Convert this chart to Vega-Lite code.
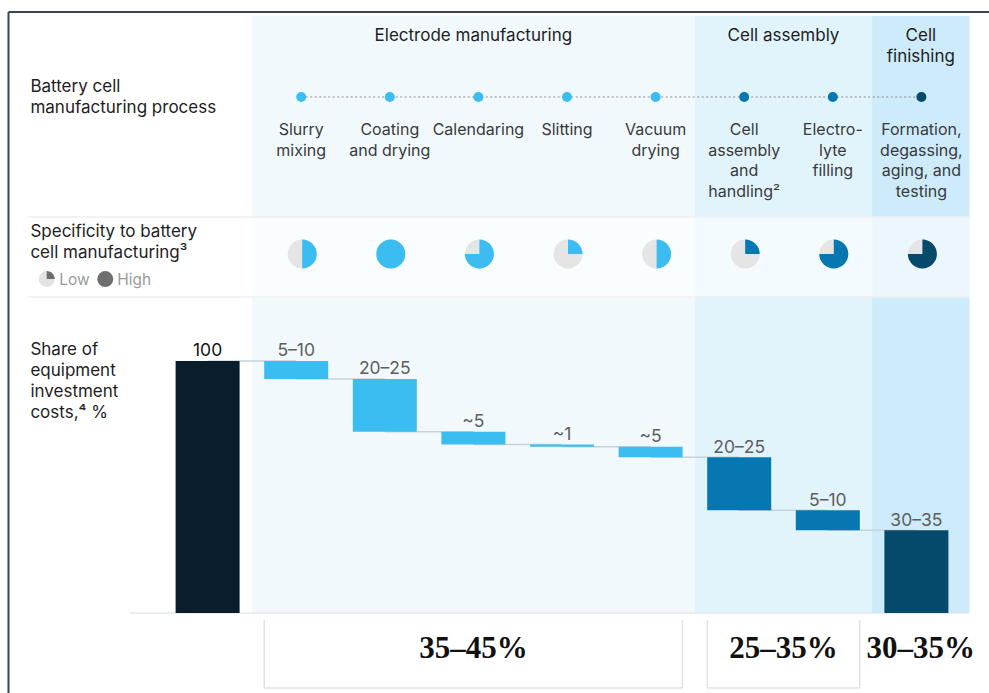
{
  "$schema": "https://vega.github.io/schema/vega-lite/v6.json",
  "width": 989,
  "height": 693,
  "autosize": {"type": "none"},
  "padding": 0,
  "background": "white",
  "config": {
    "view": {"stroke": null},
    "axis": {"disable": true},
    "legend": {"disable": true},
    "text": {"font": "Inter", "fontSize": 16}
  },
  "datasets": {
    "steps": [
      {"step": 0, "name": ["Total"], "group": "Total", "top": 100, "bottom": 0, "label": "100"},
      {"step": 1, "name": ["Slurry", "mixing"], "group": "Electrode manufacturing", "top": 100, "bottom": 92.9, "label": "5–10", "spec": 0.5},
      {"step": 2, "name": ["Coating", "and drying"], "group": "Electrode manufacturing", "top": 92.9, "bottom": 71.9, "label": "20–25", "spec": 1},
      {"step": 3, "name": ["Calendaring"], "group": "Electrode manufacturing", "top": 71.9, "bottom": 66.9, "label": "~5", "spec": 0.75},
      {"step": 4, "name": ["Slitting"], "group": "Electrode manufacturing", "top": 66.9, "bottom": 66.0, "label": "~1", "spec": 0.25},
      {"step": 5, "name": ["Vacuum", "drying"], "group": "Electrode manufacturing", "top": 66.0, "bottom": 61.8, "label": "~5", "spec": 0.5},
      {"step": 6, "name": ["Cell", "assembly", "and", "handling²"], "group": "Cell assembly", "top": 61.8, "bottom": 40.8, "label": "20–25", "spec": 0.25},
      {"step": 7, "name": ["Electro-", "lyte", "filling"], "group": "Cell assembly", "top": 40.8, "bottom": 32.8, "label": "5–10", "spec": 0.75},
      {"step": 8, "name": ["Formation,", "degassing,", "aging, and", "testing"], "group": "Cell finishing", "top": 32.8, "bottom": 0, "label": "30–35", "spec": 0.75}
    ],
    "groups": [
      {"group": "Electrode manufacturing", "title": ["Electrode manufacturing"], "x0": 0.5, "x1": 5.5, "mid": 3, "share": "35–45%", "b0": 0.64, "b1": 5.36},
      {"group": "Cell assembly", "title": ["Cell assembly"], "x0": 5.5, "x1": 7.5, "mid": 6.5, "share": "25–35%", "b0": 5.64, "b1": 7.36},
      {"group": "Cell finishing", "title": ["Cell", "finishing"], "x0": 7.5, "x1": 8.6, "mid": 8.05, "share": "30–35%"}
    ],
    "rowLabels": [
      {"row": "process", "label": ["Battery cell", "manufacturing process"]},
      {"row": "spec", "label": ["Specificity to battery", "cell manufacturing³"]},
      {"row": "share", "label": ["Share of", "equipment", "investment", "costs,⁴ %"]}
    ],
    "legend": [
      {"level": "Low", "spec": 0.25},
      {"level": "High", "spec": 1}
    ]
  },
  "layer": [
    {
      "data": {"name": "groups"},
      "mark": {"type": "rect"},
      "encoding": {
        "x": {"field": "x0", "type": "quantitative", "scale": {"domain": [-2.3431, 8.8194], "nice": false, "zero": false, "padding": 0}},
        "x2": {"field": "x1"},
        "y": {"datum": 0, "type": "quantitative", "scale": {"domain": [-31.75, 243.25], "nice": false, "zero": false, "padding": 0}},
        "y2": {"datum": 236.9},
        "fill": {"field": "group", "type": "nominal", "legend": null, "scale": {"domain": ["Electrode manufacturing", "Cell assembly", "Cell finishing"], "range": ["#f1f9fd", "#e1f4fb", "#cdebfa"]}}
      }
    },
    {
      "data": {"values": [{}]},
      "mark": {"type": "rect", "color": "white", "opacity": 0.62},
      "encoding": {
        "x": {"datum": 0.5, "type": "quantitative"},
        "x2": {"datum": 8.6},
        "y": {"datum": 125.4, "type": "quantitative"},
        "y2": {"datum": 157.1}
      }
    },
    {
      "data": {"values": [{}]},
      "mark": {"type": "rule", "color": "#eceff1", "strokeWidth": 1.5},
      "encoding": {
        "x": {"datum": -2.03, "type": "quantitative"},
        "x2": {"datum": 8.6},
        "y": {"datum": 157.1, "type": "quantitative"}
      }
    },
    {
      "data": {"values": [{}]},
      "mark": {"type": "rule", "color": "#eceff1", "strokeWidth": 1.5},
      "encoding": {
        "x": {"datum": -2.03, "type": "quantitative"},
        "x2": {"datum": 8.6},
        "y": {"datum": 125.4, "type": "quantitative"}
      }
    },
    {
      "data": {"values": [{}]},
      "mark": {"type": "rule", "color": "#e4e9ec", "strokeWidth": 1.5},
      "encoding": {
        "x": {"datum": -0.876, "type": "quantitative"},
        "x2": {"datum": 8.6},
        "y": {"datum": 0, "type": "quantitative"}
      }
    },
    {
      "data": {"values": [{}]},
      "mark": {"type": "rule", "color": "#3a464e", "strokeWidth": 2},
      "encoding": {
        "x": {"datum": -2.2472, "type": "quantitative"},
        "y": {"datum": -31.75, "type": "quantitative"},
        "y2": {"datum": 238.49}
      }
    },
    {
      "data": {"values": [{}]},
      "mark": {"type": "rule", "color": "#3a464e", "strokeWidth": 2},
      "encoding": {
        "x": {"datum": -2.2472, "type": "quantitative"},
        "x2": {"datum": 8.8194},
        "y": {"datum": 238.49, "type": "quantitative"}
      }
    },
    {
      "data": {"name": "steps"},
      "transform": [
        {"window": [{"op": "lead", "field": "step", "as": "nextStep"}, {"op": "lead", "field": "top", "as": "nextTop"}], "sort": [{"field": "step"}]},
        {"filter": "isValid(datum.nextStep)"}
      ],
      "mark": {"type": "rule", "color": "#c8d2d8", "strokeWidth": 1.5},
      "encoding": {
        "x": {"field": "step", "type": "quantitative"},
        "x2": {"field": "nextStep"},
        "y": {"field": "nextTop", "type": "quantitative"}
      }
    },
    {
      "data": {"name": "steps"},
      "mark": {"type": "bar", "width": 64},
      "encoding": {
        "x": {"field": "step", "type": "quantitative"},
        "y": {"field": "top", "type": "quantitative"},
        "y2": {"field": "bottom"},
        "color": {"field": "group", "type": "nominal", "legend": null, "scale": {"domain": ["Total", "Electrode manufacturing", "Cell assembly", "Cell finishing"], "range": ["#0a1d2c", "#3cbdf1", "#0677b0", "#054a6b"]}}
      }
    },
    {
      "data": {"name": "steps"},
      "mark": {"type": "text", "baseline": "alphabetic", "dy": -4.5, "fontSize": 17.5},
      "encoding": {
        "x": {"field": "step", "type": "quantitative"},
        "y": {"field": "top", "type": "quantitative"},
        "text": {"field": "label", "type": "nominal"},
        "color": {"condition": {"test": "datum.step === 0", "value": "#111111"}, "value": "#5e5e5e"}
      }
    },
    {
      "data": {"name": "groups"},
      "mark": {"type": "text", "baseline": "alphabetic", "fontSize": 17, "lineHeight": 21, "color": "#1e1e1e"},
      "encoding": {
        "x": {"field": "mid", "type": "quantitative"},
        "y": {"datum": 227.0, "type": "quantitative"},
        "text": {"field": "title", "type": "nominal"}
      }
    },
    {
      "data": {"name": "rowLabels"},
      "transform": [{"filter": "datum.row === 'process'"}],
      "mark": {"type": "text", "align": "left", "baseline": "alphabetic", "fontSize": 17, "lineHeight": 21, "color": "#1e1e1e"},
      "encoding": {
        "x": {"datum": -2.0, "type": "quantitative"},
        "y": {"datum": 206.7, "type": "quantitative"},
        "text": {"field": "label", "type": "nominal"}
      }
    },
    {
      "data": {"name": "rowLabels"},
      "transform": [{"filter": "datum.row === 'spec'"}],
      "mark": {"type": "text", "align": "left", "baseline": "alphabetic", "fontSize": 17, "lineHeight": 21, "color": "#1e1e1e"},
      "encoding": {
        "x": {"datum": -2.0, "type": "quantitative"},
        "y": {"datum": 149.1, "type": "quantitative"},
        "text": {"field": "label", "type": "nominal"}
      }
    },
    {
      "data": {"name": "rowLabels"},
      "transform": [{"filter": "datum.row === 'share'"}],
      "mark": {"type": "text", "align": "left", "baseline": "alphabetic", "fontSize": 17, "lineHeight": 21, "color": "#1e1e1e"},
      "encoding": {
        "x": {"datum": -2.0, "type": "quantitative"},
        "y": {"datum": 102.4, "type": "quantitative"},
        "text": {"field": "label", "type": "nominal"}
      }
    },
    {
      "data": {"name": "legend"},
      "transform": [{"filter": "datum.level === 'Low'"}],
      "mark": {"type": "point", "shape": "circle", "filled": true, "size": 256, "color": "#e3e3e3", "opacity": 1},
      "encoding": {
        "x": {"datum": -1.816, "type": "quantitative"},
        "y": {"datum": 132.5, "type": "quantitative"}
      }
    },
    {
      "data": {"name": "legend"},
      "transform": [{"filter": "datum.level === 'Low'"}],
      "mark": {"type": "point", "filled": true, "size": 256, "color": "#6e6e6e", "opacity": 1},
      "encoding": {
        "x": {"datum": -1.816, "type": "quantitative"},
        "y": {"datum": 132.5, "type": "quantitative"},
        "shape": {"field": "spec", "type": "ordinal", "legend": null, "scale": {"domain": [0.25, 0.5, 0.75, 1], "range": ["M0,0L0,-1A1,1,0,0,1,1,0Z", "M0,0L0,-1A1,1,0,0,1,0,1Z", "M0,0L0,-1A1,1,0,1,1,-1,0Z", "circle"]}}
      }
    },
    {
      "data": {"name": "legend"},
      "transform": [{"filter": "datum.level === 'High'"}],
      "mark": {"type": "point", "shape": "circle", "filled": true, "size": 256, "color": "#6e6e6e", "opacity": 1},
      "encoding": {
        "x": {"datum": -1.155, "type": "quantitative"},
        "y": {"datum": 132.5, "type": "quantitative"}
      }
    },
    {
      "data": {"name": "legend"},
      "transform": [{"filter": "datum.level === 'Low'"}],
      "mark": {"type": "text", "align": "left", "baseline": "alphabetic", "fontSize": 15.5, "color": "#9a9a9a"},
      "encoding": {
        "x": {"datum": -1.674, "type": "quantitative"},
        "y": {"datum": 130.2, "type": "quantitative"},
        "text": {"field": "level", "type": "nominal"}
      }
    },
    {
      "data": {"name": "legend"},
      "transform": [{"filter": "datum.level === 'High'"}],
      "mark": {"type": "text", "align": "left", "baseline": "alphabetic", "fontSize": 15.5, "color": "#9a9a9a"},
      "encoding": {
        "x": {"datum": -1.019, "type": "quantitative"},
        "y": {"datum": 130.2, "type": "quantitative"},
        "text": {"field": "level", "type": "nominal"}
      }
    },
    {
      "data": {"name": "groups"},
      "transform": [{"filter": "isValid(datum.b0)"}],
      "mark": {"type": "rule", "color": "#e0e2e4", "strokeWidth": 1.5},
      "encoding": {
        "x": {"field": "b0", "type": "quantitative"},
        "y": {"datum": -2.8, "type": "quantitative"},
        "y2": {"datum": -29.8}
      }
    },
    {
      "data": {"name": "groups"},
      "transform": [{"filter": "isValid(datum.b0)"}],
      "mark": {"type": "rule", "color": "#e0e2e4", "strokeWidth": 1.5},
      "encoding": {
        "x": {"field": "b1", "type": "quantitative"},
        "y": {"datum": -2.8, "type": "quantitative"},
        "y2": {"datum": -29.8}
      }
    },
    {
      "data": {"name": "groups"},
      "transform": [{"filter": "isValid(datum.b0)"}],
      "mark": {"type": "rule", "color": "#e0e2e4", "strokeWidth": 1.5},
      "encoding": {
        "x": {"field": "b0", "type": "quantitative"},
        "x2": {"field": "b1"},
        "y": {"datum": -29.8, "type": "quantitative"}
      }
    },
    {
      "data": {"name": "groups"},
      "mark": {"type": "text", "baseline": "alphabetic", "font": "Liberation Serif", "fontWeight": "bold", "fontSize": 31, "color": "#111111"},
      "encoding": {
        "x": {"field": "mid", "type": "quantitative"},
        "y": {"datum": -17.9, "type": "quantitative"},
        "text": {"field": "share", "type": "nominal"}
      }
    },
    {
      "data": {"name": "steps"},
      "transform": [{"filter": "datum.step >= 1"}],
      "mark": {"type": "line", "color": "#8c8c8c", "strokeWidth": 1, "strokeDash": [2, 2.5], "xOffset": 5},
      "encoding": {
        "x": {"field": "step", "type": "quantitative"},
        "y": {"datum": 204.76, "type": "quantitative"}
      }
    },
    {
      "data": {"name": "steps"},
      "transform": [{"filter": "datum.step >= 1"}],
      "mark": {"type": "point", "shape": "circle", "filled": true, "size": 100, "opacity": 1, "xOffset": 5},
      "encoding": {
        "x": {"field": "step", "type": "quantitative"},
        "y": {"datum": 204.76, "type": "quantitative"},
        "color": {"field": "group", "type": "nominal", "legend": null}
      }
    },
    {
      "data": {"name": "steps"},
      "transform": [{"filter": "datum.step >= 1"}],
      "mark": {"type": "text", "baseline": "alphabetic", "fontSize": 16, "lineHeight": 20.5, "color": "#3a3a3a", "xOffset": 5},
      "encoding": {
        "x": {"field": "step", "type": "quantitative"},
        "y": {"datum": 189.5, "type": "quantitative"},
        "text": {"field": "name", "type": "nominal"}
      }
    },
    {
      "data": {"name": "steps"},
      "transform": [{"filter": "datum.step >= 1"}],
      "mark": {"type": "point", "shape": "circle", "filled": true, "size": 841, "color": "#e5e5e5", "opacity": 1, "xOffset": 6},
      "encoding": {
        "x": {"field": "step", "type": "quantitative"},
        "y": {"datum": 142.46, "type": "quantitative"}
      }
    },
    {
      "data": {"name": "steps"},
      "transform": [{"filter": "datum.step >= 1"}],
      "mark": {"type": "point", "filled": true, "size": 841, "opacity": 1, "xOffset": 6},
      "encoding": {
        "x": {"field": "step", "type": "quantitative"},
        "y": {"datum": 142.46, "type": "quantitative"},
        "shape": {"field": "spec", "type": "ordinal", "legend": null},
        "color": {"field": "group", "type": "nominal", "legend": null}
      }
    }
  ]
}
